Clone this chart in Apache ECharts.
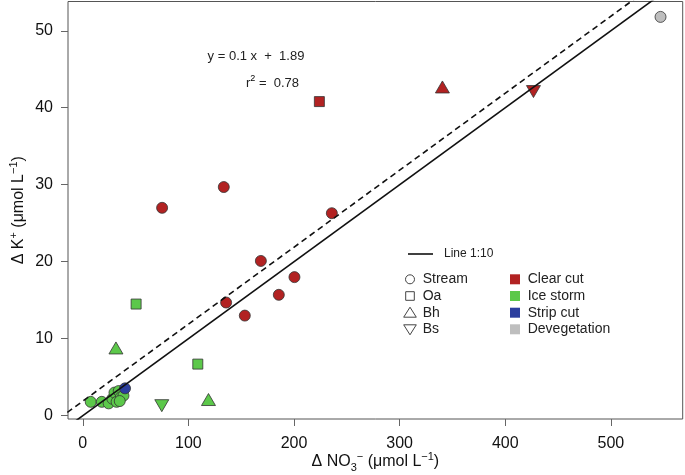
<!DOCTYPE html>
<html>
<head>
<meta charset="utf-8">
<script src="https://cdn.jsdelivr.net/npm/echarts@6/dist/echarts.min.js"></script>
<style>html,body{margin:0;padding:0;background:#fff}#c{width:685px;height:475px}</style>
</head>
<body>
<div id="c"></div>
<script>
// ---- data (ΔNO3-, ΔK+) ----
const clearCutStream = [[75.1,27.0],[133.5,29.7],[235.8,26.3],[168.6,20.1],[200.4,18.0],[135.7,14.7],[185.6,15.7],[153.4,13.0]];
const clearCutOa = [[224,40.8]];
const clearCutBh = [[340.5,42.7]];
const clearCutBs = [[426.7,42.1]];
const iceStormStream = [[7.5,1.8],[18,1.8],[24.5,1.6],[28,2.2],[30,3.0],[32,1.8],[34,3.2],[36,2.4],[38.5,2.6],[35,1.9]];
const iceStormOa = [[50.5,14.5],[108.9,6.7]];
const iceStormBh = [[31.4,8.8],[119,2.1]];
const iceStormBs = [[74.8,1.3]];
const stripCutStream = [[40,3.55]];
const devegetationStream = [[547,51.8]];
const xTicks = [0,100,200,300,400,500];
const yTicks = [0,10,20,30,40,50];
const fitSlope = 0.1, fitIntercept = 1.89;   // y = 0.1 x + 1.89
const refSlope = 0.1;                          // Line 1:10
const lineXs = [-30, 620];

const COL = {clear:'#B22222', ice:'#5CC84A', strip:'#2B3E9E', deveg:'#BEBEBE'};
const FONT = 'Liberation Sans, Arial, Helvetica, sans-serif';

function sc(name, data, color, symbol, size, rotate){
  return {type:'scatter', name, data, symbol, symbolSize:size, symbolRotate:rotate||0,
    itemStyle:{color, borderColor:'#333', borderWidth:0.8, opacity:1}, z:2, silent:true};
}
const circ = 11, sq = 10, tri = [14,12];

const chart = echarts.init(document.getElementById('c'), null, {renderer:'canvas'});
const series = [
  sc('cs', clearCutStream, COL.clear, 'circle', circ),
  sc('co', clearCutOa, COL.clear, 'rect', sq),
  sc('cb', clearCutBh, COL.clear, 'triangle', tri),
  sc('cbs', clearCutBs, COL.clear, 'triangle', tri, 180),
  sc('is', iceStormStream, COL.ice, 'circle', circ),
  sc('io', iceStormOa, COL.ice, 'rect', sq),
  sc('ib', iceStormBh, COL.ice, 'triangle', tri),
  sc('ibs', iceStormBs, COL.ice, 'triangle', tri, 180),
  sc('ss', stripCutStream, COL.strip, 'circle', circ),
  sc('ds', devegetationStream, COL.deveg, 'circle', circ),
  {type:'line', data: lineXs.map(x=>[x, refSlope*x]), symbol:'none', clip:true, z:5, silent:true,
    lineStyle:{color:'#111', width:1.6}},
  {type:'line', data: lineXs.map(x=>[x, fitSlope*x+fitIntercept]), symbol:'none', clip:true, z:5, silent:true,
    lineStyle:{color:'#111', width:1.6, type:[6,4]}}
];

const legendX = 410, legendX2 = 515;
const rows = [279.3, 296, 312.7, 329.3];
const txt = (x,y,t,size) => ({type:'text', x, y, style:{text:t, font:`${size}px ${FONT}`, fill:'#222', verticalAlign:'middle', align:'left'}});
const graphic = [
  {type:'line', shape:{x1:408,y1:254,x2:433,y2:254}, style:{stroke:'#111', lineWidth:1.6}},
  txt(444,254,'Line 1:10',12),
  {type:'circle', shape:{cx:legendX, cy:rows[0], r:4.5}, style:{fill:'none', stroke:'#444', lineWidth:1}},
  {type:'rect', shape:{x:legendX-4.3, y:rows[1]-4.3, width:8.6, height:8.6}, style:{fill:'none', stroke:'#444', lineWidth:1}},
  {type:'polygon', shape:{points:[[legendX,rows[2]-5.5],[legendX-6.3,rows[2]+4.5],[legendX+6.3,rows[2]+4.5]]}, style:{fill:'none', stroke:'#444', lineWidth:1}},
  {type:'polygon', shape:{points:[[legendX,rows[3]+5.5],[legendX-6.3,rows[3]-4.5],[legendX+6.3,rows[3]-4.5]]}, style:{fill:'none', stroke:'#444', lineWidth:1}},
  txt(422.7,rows[0],'Stream',14), txt(422.7,rows[1],'Oa',14), txt(422.7,rows[2],'Bh',14), txt(422.7,rows[3],'Bs',14),
  {type:'rect', shape:{x:legendX2-5, y:rows[0]-5, width:10, height:10}, style:{fill:COL.clear}},
  {type:'rect', shape:{x:legendX2-5, y:rows[1]-5, width:10, height:10}, style:{fill:COL.ice}},
  {type:'rect', shape:{x:legendX2-5, y:rows[2]-5, width:10, height:10}, style:{fill:COL.strip}},
  {type:'rect', shape:{x:legendX2-5, y:rows[3]-5, width:10, height:10}, style:{fill:COL.deveg}},
  txt(527.7,rows[0],'Clear cut',14), txt(527.7,rows[1],'Ice storm',14), txt(527.7,rows[2],'Strip cut',14), txt(527.7,rows[3],'Devegetation',14),
  {type:'text', x:256, y:56, style:{text:'y = 0.1 x  +  1.89', font:`13px ${FONT}`, fill:'#222', align:'center', verticalAlign:'middle'}},
  {type:'text', x:246, y:83, style:{text:'{a|r}{s|2}{a| =  0.78}', align:'left', verticalAlign:'middle',
     rich:{a:{fontSize:13, fontFamily:FONT, fill:'#222', color:'#222', lineHeight:17}, s:{fontSize:9, fontFamily:FONT, color:'#222', verticalAlign:'top', lineHeight:9}}}}
];

const nameRich = {
  n:{fontSize:16, fontFamily:FONT, color:'#111', lineHeight:22},
  sub:{fontSize:11, fontFamily:FONT, color:'#111', verticalAlign:'bottom', lineHeight:11},
  sup:{fontSize:11, fontFamily:FONT, color:'#111', verticalAlign:'top', lineHeight:11}
};

chart.setOption({
  animation:false,
  backgroundColor:'#fff',
  grid:{left:68, right:2.3, top:1.5, bottom:56, show:true, borderColor:'#555', borderWidth:1, backgroundColor:'transparent',
        outerBoundsMode:'none', containLabel:false},
  xAxis:{type:'value', min:-14, max:568,
    name:'{n|Δ NO}{sub|3}{sup|−}{n| (μmol L}{sup|−1}{n|)}', nameLocation:'middle', nameGap:32, nameMoveOverlap:false,
    nameTextStyle:{rich:nameRich},
    axisLine:{show:false, onZero:false},
    axisTick:{show:true, customValues:xTicks, length:7, inside:false, lineStyle:{color:'#666', width:1}},
    axisLabel:{customValues:xTicks, fontSize:16, fontFamily:FONT, color:'#111', margin:17},
    splitLine:{show:false}},
  yAxis:{type:'value', min:-0.43, max:53.8,
    name:'{n|Δ K}{sup|+}{n| (μmol L}{sup|−1}{n|)}', nameLocation:'middle', nameGap:38, nameRotate:90, nameMoveOverlap:false,
    nameTextStyle:{rich:nameRich},
    axisLine:{show:false, onZero:false},
    axisTick:{show:true, customValues:yTicks, length:7, inside:false, lineStyle:{color:'#666', width:1}},
    axisLabel:{customValues:yTicks, fontSize:16, fontFamily:FONT, color:'#111', margin:15},
    splitLine:{show:false}},
  series,
  graphic
});
</script>
</body>
</html>
